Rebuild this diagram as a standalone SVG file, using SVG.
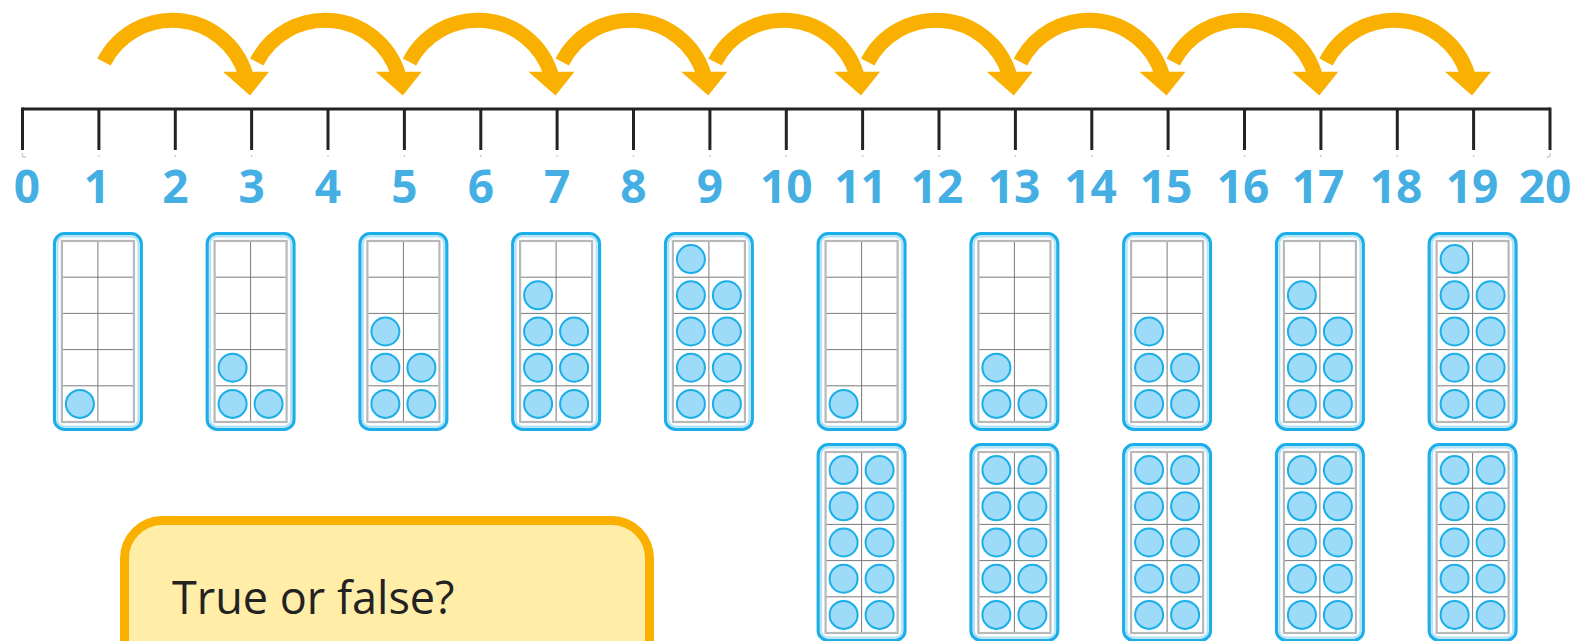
<svg xmlns="http://www.w3.org/2000/svg" xmlns:xlink="http://www.w3.org/1999/xlink" width="1577" height="641" viewBox="0 0 1577 641">
<style>
.axis{stroke:#232323;stroke-width:3;fill:none}
.tick{stroke:#232323;stroke-width:3}
.faint{stroke:#cfcfcf;stroke-width:1.5}
.num{font-family:"Open Sans","Liberation Sans",sans-serif;font-weight:700;font-size:46px;fill:#45AFE4;text-anchor:middle}
.hop{stroke:#F9B000;stroke-width:15;fill:none}
.head{fill:#F9B000}
.frameOuter{fill:#fff;stroke:#1BAEE8;stroke-width:3.2}
.frameHalo{fill:none;stroke:#B4E2F6;stroke-width:2}
.gridOuter{fill:#fff;stroke:#b8b8b8;stroke-width:2.2}
.gridLine{stroke:#7a7a7a;stroke-width:1}
.counter{fill:#9DDBF8;stroke:#1BAEE8;stroke-width:2}
.box{fill:#FFEDA8;stroke:#F9B000;stroke-width:9}
.q{font-family:"Open Sans","Liberation Sans",sans-serif;font-size:45px;fill:#222}
</style>
<defs>
<g id="arrow">
<path class="hop" d="M104,62 A76.7,76.7 0 0 1 245.5,74"/>
<polygon class="head" points="223,71.7 269,71.7 250,95.5"/>
</g>
<g id="tf">
<rect class="frameOuter" x="1.6" y="1.6" width="86.8" height="195.8" rx="10"/>
<rect class="frameHalo" x="4.5" y="4.5" width="81" height="190" rx="7"/>
<rect class="gridOuter" x="9" y="9" width="72" height="181"/>
<line class="gridLine" x1="45" y1="10" x2="45" y2="189"/>
<line class="gridLine" x1="10" y1="45.2" x2="80" y2="45.2"/>
<line class="gridLine" x1="10" y1="81.4" x2="80" y2="81.4"/>
<line class="gridLine" x1="10" y1="117.6" x2="80" y2="117.6"/>
<line class="gridLine" x1="10" y1="153.8" x2="80" y2="153.8"/>
</g>
<circle id="c" class="counter" r="14"/>
<g id="c1"><use href="#c" x="27" y="171.9"/></g>
<g id="c3"><use href="#c1"/><use href="#c" x="63" y="171.9"/><use href="#c" x="27" y="135.7"/></g>
<g id="c5"><use href="#c3"/><use href="#c" x="63" y="135.7"/><use href="#c" x="27" y="99.5"/></g>
<g id="c7"><use href="#c5"/><use href="#c" x="63" y="99.5"/><use href="#c" x="27" y="63.3"/></g>
<g id="c9"><use href="#c7"/><use href="#c" x="63" y="63.3"/><use href="#c" x="27" y="27.1"/></g>
<g id="c10"><use href="#c9"/><use href="#c" x="63" y="27.1"/></g>
</defs>
<rect width="1577" height="641" fill="#fff"/>

<g id="number-line">
<line class="axis" x1="22.5" y1="109" x2="1550" y2="109"/>
<g class="tick">
<line x1="22.5" y1="107.5" x2="22.5" y2="150"/>
<line x1="98.9" y1="109" x2="98.9" y2="150"/>
<line x1="175.3" y1="109" x2="175.3" y2="150"/>
<line x1="251.6" y1="109" x2="251.6" y2="150"/>
<line x1="328" y1="109" x2="328" y2="150"/>
<line x1="404.4" y1="109" x2="404.4" y2="150"/>
<line x1="480.8" y1="109" x2="480.8" y2="150"/>
<line x1="557.1" y1="109" x2="557.1" y2="150"/>
<line x1="633.5" y1="109" x2="633.5" y2="150"/>
<line x1="709.9" y1="109" x2="709.9" y2="150"/>
<line x1="786.3" y1="109" x2="786.3" y2="150"/>
<line x1="862.6" y1="109" x2="862.6" y2="150"/>
<line x1="939" y1="109" x2="939" y2="150"/>
<line x1="1015.4" y1="109" x2="1015.4" y2="150"/>
<line x1="1091.8" y1="109" x2="1091.8" y2="150"/>
<line x1="1168.1" y1="109" x2="1168.1" y2="150"/>
<line x1="1244.5" y1="109" x2="1244.5" y2="150"/>
<line x1="1320.9" y1="109" x2="1320.9" y2="150"/>
<line x1="1397.3" y1="109" x2="1397.3" y2="150"/>
<line x1="1473.6" y1="109" x2="1473.6" y2="150"/>
<line x1="1550" y1="107.5" x2="1550" y2="150"/>
</g>
<g class="faint">
<line x1="22.5" y1="153" x2="22.5" y2="157"/><line x1="22.5" y1="157" x2="26" y2="157"/>
<line x1="98.9" y1="155" x2="98.9" y2="157"/>
<line x1="175.3" y1="155" x2="175.3" y2="157"/>
<line x1="251.6" y1="155" x2="251.6" y2="157"/>
<line x1="328" y1="155" x2="328" y2="157"/>
<line x1="404.4" y1="155" x2="404.4" y2="157"/>
<line x1="480.8" y1="155" x2="480.8" y2="157"/>
<line x1="557.1" y1="155" x2="557.1" y2="157"/>
<line x1="633.5" y1="155" x2="633.5" y2="157"/>
<line x1="709.9" y1="155" x2="709.9" y2="157"/>
<line x1="786.3" y1="155" x2="786.3" y2="157"/>
<line x1="862.6" y1="155" x2="862.6" y2="157"/>
<line x1="939" y1="155" x2="939" y2="157"/>
<line x1="1015.4" y1="155" x2="1015.4" y2="157"/>
<line x1="1091.8" y1="155" x2="1091.8" y2="157"/>
<line x1="1168.1" y1="155" x2="1168.1" y2="157"/>
<line x1="1244.5" y1="155" x2="1244.5" y2="157"/>
<line x1="1320.9" y1="155" x2="1320.9" y2="157"/>
<line x1="1397.3" y1="155" x2="1397.3" y2="157"/>
<line x1="1473.6" y1="155" x2="1473.6" y2="157"/>
<line x1="1550" y1="153" x2="1550" y2="157"/><line x1="1546.5" y1="157" x2="1550" y2="157"/>
</g>
<g class="num">
<text x="27" y="203">0</text>
<text x="97" y="203">1</text>
<text x="175.3" y="203">2</text>
<text x="251.6" y="203">3</text>
<text x="328" y="203">4</text>
<text x="404.4" y="203">5</text>
<text x="480.8" y="203">6</text>
<text x="557.1" y="203">7</text>
<text x="633.5" y="203">8</text>
<text x="709.9" y="203">9</text>
<text x="786.3" y="203">10</text>
<text x="860.6" y="203">11</text>
<text x="937" y="203">12</text>
<text x="1014" y="203">13</text>
<text x="1090.5" y="203">14</text>
<text x="1166" y="203">15</text>
<text x="1243" y="203">16</text>
<text x="1318" y="203">17</text>
<text x="1396" y="203">18</text>
<text x="1472" y="203">19</text>
<text x="1545" y="203">20</text>
</g>
</g>

<g id="connectors">
<use href="#arrow"/>
<use href="#arrow" x="152.75"/>
<use href="#arrow" x="305.5"/>
<use href="#arrow" x="458.25"/>
<use href="#arrow" x="611"/>
<use href="#arrow" x="763.75"/>
<use href="#arrow" x="916.5"/>
<use href="#arrow" x="1069.25"/>
<use href="#arrow" x="1222"/>
</g>

<g id="frame-1"><use href="#tf" x="52.9" y="232"/><use href="#c1" x="52.9" y="232"/></g>
<g id="frame-3"><use href="#tf" x="205.6" y="232"/><use href="#c3" x="205.6" y="232"/></g>
<g id="frame-5"><use href="#tf" x="358.4" y="232"/><use href="#c5" x="358.4" y="232"/></g>
<g id="frame-7"><use href="#tf" x="511.1" y="232"/><use href="#c7" x="511.1" y="232"/></g>
<g id="frame-9"><use href="#tf" x="663.9" y="232"/><use href="#c9" x="663.9" y="232"/></g>
<g id="frame-11-top"><use href="#tf" x="816.6" y="232"/><use href="#c1" x="816.6" y="232"/></g>
<g id="frame-13-top"><use href="#tf" x="969.4" y="232"/><use href="#c3" x="969.4" y="232"/></g>
<g id="frame-15-top"><use href="#tf" x="1122.1" y="232"/><use href="#c5" x="1122.1" y="232"/></g>
<g id="frame-17-top"><use href="#tf" x="1274.9" y="232"/><use href="#c7" x="1274.9" y="232"/></g>
<g id="frame-19-top"><use href="#tf" x="1427.6" y="232"/><use href="#c9" x="1427.6" y="232"/></g>
<g id="frame-11-bottom"><use href="#tf" x="816.6" y="443"/><use href="#c10" x="816.6" y="443"/></g>
<g id="frame-13-bottom"><use href="#tf" x="969.4" y="443"/><use href="#c10" x="969.4" y="443"/></g>
<g id="frame-15-bottom"><use href="#tf" x="1122.1" y="443"/><use href="#c10" x="1122.1" y="443"/></g>
<g id="frame-17-bottom"><use href="#tf" x="1274.9" y="443"/><use href="#c10" x="1274.9" y="443"/></g>
<g id="frame-19-bottom"><use href="#tf" x="1427.6" y="443"/><use href="#c10" x="1427.6" y="443"/></g>

<g id="question-box">
<rect class="box" x="124.5" y="520.5" width="525" height="220" rx="38"/>
<text class="q" x="172" y="614">True or false?</text>
</g>
</svg>
